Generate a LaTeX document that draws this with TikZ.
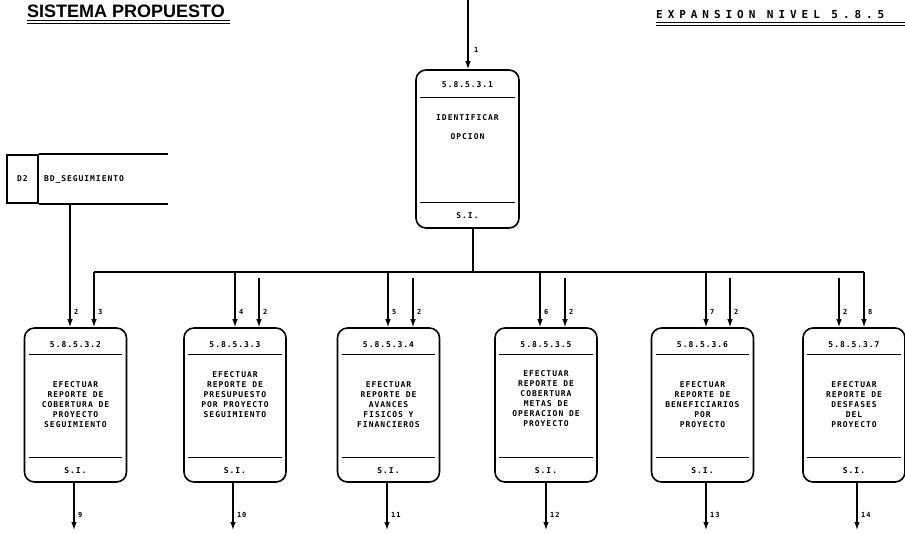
\documentclass[tikz,border=0pt]{standalone}
\usepackage{fontspec}
\setmainfont{DejaVu Sans Mono}
\newfontfamily\dotfont[LetterSpace=12]{DejaVu Sans Mono Bold}
\newfontfamily\widefont[LetterSpace=45]{DejaVu Sans Mono Bold}
\newfontfamily\headfont{Liberation Sans}
\usetikzlibrary{arrows.meta,positioning}
\tikzset{
  proc/.style={draw,line width=1.6pt,rounded corners=10pt,minimum width=102pt,minimum height=154pt,inner sep=0pt},
  sep/.style={line width=1.2pt},
  wire/.style={line width=1.2pt},
  flow/.style={line width=1.2pt,-{Latex[length=8pt,width=5.5pt]}},
  txt/.style={font=\dotfont\fontsize{8}{10}\selectfont,align=center,inner sep=0pt},
  lbl/.style={font=\dotfont\fontsize{7}{7}\selectfont,anchor=west,inner sep=0pt},
}
\begin{document}
\begin{tikzpicture}[x=1pt,y=-1pt]
\useasboundingbox (0,0) rectangle (905,535);
% Headings
\node[font=\headfont\bfseries\fontsize{18}{18}\selectfont,anchor=west,inner sep=0pt] (title) at (27,11) {SISTEMA PROPUESTO};
\draw[line width=1pt] (27,21) -- (230,21) (27,24) -- (230,24);
\node[font=\widefont\fontsize{11}{11}\selectfont,anchor=west,inner sep=0pt] (nivel) at (656,14) {EXPANSION NIVEL 5.8.5};
\draw[line width=1pt] (656,23) -- (905,23) (656,26) -- (905,26);
% Top process
\node[proc,minimum width=103pt,minimum height=158pt] (p1) at (467.5,149) {};
\draw[sep] ([shift={(5,28)}]p1.north west) -- ([shift={(-5,28)}]p1.north east);
\draw[sep] ([shift={(5,-26)}]p1.south west) -- ([shift={(-5,-26)}]p1.south east);
\node[txt] (h1) at ([shift={(0,15)}]p1.north) {5.8.5.3.1};
\node[txt] (b1) at (467.5,127.5) {IDENTIFICAR\\[9pt]OPCION};
\node[txt] (f1) at ([shift={(0,-13)}]p1.south) {S.I.};
\coordinate (in1) at (468,0);
\draw[flow] (in1) -- (in1 |- p1.north);
\node[lbl] (l1) at (474,50) {1};
% Data store
\node[draw,line width=1.6pt,minimum width=31pt,minimum height=48pt,inner sep=0pt,font=\dotfont\fontsize{8}{8}\selectfont] (d2) at (22.5,179) {D2};
\draw[line width=1.6pt] (d2.north east) -- ++(129,0) (d2.south east) -- ++(129,0);
\node[txt,anchor=west] (bd) at ([xshift=5pt]d2.east) {BD\_SEGUIMIENTO};
% Bus
\coordinate (bl) at (94,272);
\coordinate (br) at (864,272);
\coordinate (j) at (473,272);
\draw[wire] (j |- p1.south) -- (j);
\draw[wire] (bl) -- (br);
% Report processes
\foreach \n/\cx/\bx/\bl/\fx/\fy/\fl/\ox/\ol/\dy/\body in {
  2/75.5/94/3/70/203/2/74/9/0/{EFECTUAR\\REPORTE DE\\COBERTURA DE\\PROYECTO\\SEGUIMIENTO},
  3/235/235/4/259/278/2/233/10/-10/{EFECTUAR\\REPORTE DE\\PRESUPUESTO\\POR PROYECTO\\SEGUIMIENTO},
  4/388.5/388/5/413/278/2/387/11/0/{EFECTUAR\\REPORTE DE\\AVANCES\\FISICOS Y\\FINANCIEROS},
  5/546/540/6/565/278/2/546/12/-6/{EFECTUAR\\REPORTE DE\\COBERTURA\\METAS DE\\OPERACION DE\\PROYECTO},
  6/702.5/706/7/730/278/2/706/13/0/{EFECTUAR\\REPORTE  DE\\BENEFICIARIOS\\POR\\PROYECTO},
  7/854/864/8/839/278/2/857/14/0/{EFECTUAR\\REPORTE  DE\\DESFASES\\DEL\\PROYECTO}} {
  \node[proc] (p\n) at (\cx,405) {};
  \draw[sep] ([shift={(5,27)}]p\n.north west) -- ([shift={(-5,27)}]p\n.north east);
  \draw[sep] ([shift={(5,-25)}]p\n.south west) -- ([shift={(-5,-25)}]p\n.south east);
  \node[txt] (h\n) at ([shift={(0,17)}]p\n.north) {5.8.5.3.\n};
  \node[txt] (b\n) at ([shift={(0,\dy)}]p\n.center) {\body};
  \node[txt] (f\n) at ([shift={(0,-12)}]p\n.south) {S.I.};
  % from bus
  \coordinate (a\n) at (\bx,272);
  \draw[flow] (a\n) -- (a\n |- p\n.north);
  \node[lbl] (la\n) at (\bx+4,312) {\bl};
  % flow 2
  \coordinate (s\n) at (\fx,\fy);
  \draw[flow] (s\n) -- (s\n |- p\n.north);
  \node[lbl] (ls\n) at (\fx+4,312) {\fl};
  % output
  \coordinate (o\n) at (\ox,530);
  \draw[flow] (o\n |- p\n.south) -- (o\n);
  \node[lbl] (lo\n) at (\ox+4,515) {\ol};
}
\end{tikzpicture}
\end{document}
